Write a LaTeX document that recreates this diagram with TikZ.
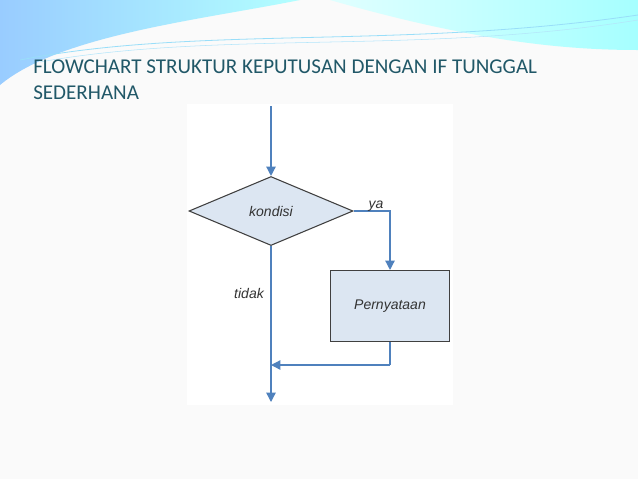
\documentclass[tikz,border=0pt]{standalone}
\usepackage{fontspec}
\setmainfont{Carlito}
\newfontfamily\arialf{Liberation Sans}
\usetikzlibrary{shapes.geometric,arrows.meta}
\definecolor{ln}{HTML}{4F81BD}
\definecolor{fillb}{HTML}{DCE6F2}
\definecolor{ttl}{HTML}{215868}
\begin{document}
\begin{tikzpicture}[x=0.75pt,y=-0.75pt,
  conn/.style={draw=ln,line width=1pt,-{Triangle[length=7pt,width=7pt]}},
  plain/.style={draw=ln,line width=1pt},
  lbl/.style={font=\arialf\itshape\fontsize{10.5}{12}\selectfont,text=black!80}]
\useasboundingbox (0,0) rectangle (638,479);
\fill[gray!4] (0,0) rectangle (638,479);
% banner
\shade[left color=cyan!50!blue!40,right color=cyan!30] (0,0) -- (300,0) .. controls (200,20) and (60,35) .. (0,85) -- cycle;
\shade[left color=cyan!12,right color=cyan!35] (330,0) -- (638,0) -- (638,50) .. controls (560,50) and (470,40) .. (330,0) -- cycle;
\draw[cyan!40,line width=0.6pt] (20,60) .. controls (200,25) and (400,50) .. (638,15);
\draw[cyan!30,line width=0.4pt] (40,62) .. controls (220,30) and (420,55) .. (638,20);
\node[anchor=base west,inner sep=0pt,font=\fontsize{15.8}{18}\selectfont,text=ttl] (t1) at (33,73) {FLOWCHART STRUKTUR KEPUTUSAN DENGAN IF TUNGGAL};
\node[anchor=base west,inner sep=0pt,font=\fontsize{15.8}{18}\selectfont,text=ttl] (t2) at (33,99) {SEDERHANA};
% diagram area
\fill[white] (187,104) rectangle (453,405);
\coordinate (start) at (271,106);
\node[diamond,draw=black!75,fill=fillb,line width=0.8pt,minimum width=164*0.75pt,minimum height=69*0.75pt,inner sep=0pt,aspect=2.4,lbl] (k) at (271,211) {kondisi};
\node[rectangle,draw=black!75,fill=fillb,line width=0.8pt,minimum width=119*0.75pt,minimum height=71*0.75pt,lbl] (p) at (390,306) {Pernyataan};
\coordinate (r) at (390,211);
\coordinate (b) at (390,365);
\coordinate (m) at (271,365);
\coordinate (end) at (271,402);
\draw[conn] (start) -- (k.north);
\draw[conn] (k.east) -- (r) -- (p.north);
\draw[plain] (p.south) -- (b);
\draw[conn] (b) -- (m);
\draw[conn] (k.south) -- (end);
\node[lbl,anchor=base] (ya) at (376,208) {ya};
\node[lbl,anchor=base] (td) at (249,298) {tidak};
\end{tikzpicture}
\end{document}
